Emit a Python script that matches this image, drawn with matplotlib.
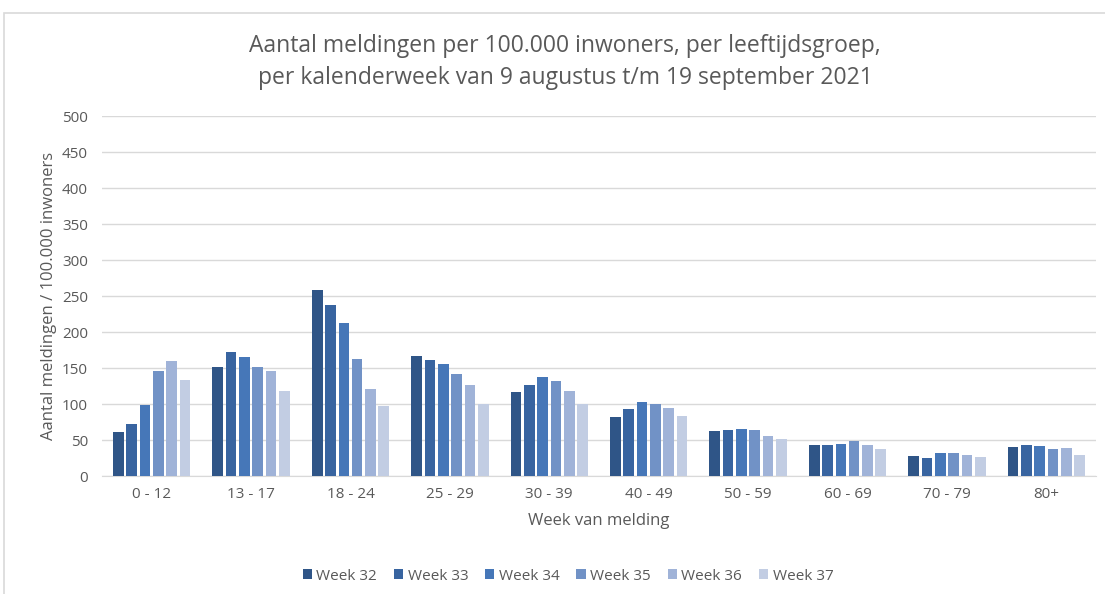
import numpy as np
import matplotlib.pyplot as plt
from matplotlib.patches import Rectangle

groups = ['0 - 12', '13 - 17', '18 - 24', '25 - 29', '30 - 39',
          '40 - 49', '50 - 59', '60 - 69', '70 - 79', '80+']
weeks = ['Week 32', 'Week 33', 'Week 34', 'Week 35', 'Week 36', 'Week 37']

week32 = [61, 151, 258, 166, 117, 82, 63, 43, 28, 40]
week33 = [72, 172, 237, 161, 127, 93, 64, 43, 25, 43]
week34 = [98, 165, 213, 156, 137, 103, 65, 45, 32, 42]
week35 = [146, 151, 162, 141, 132, 100, 64, 48, 32, 38]
week36 = [160, 146, 121, 126, 118, 95, 55, 43, 29, 39]
week37 = [133, 118, 97, 100, 100, 83, 51, 37, 27, 29]
series = [week32, week33, week34, week35, week36, week37]

colors = ['#2f5587', '#3864a0', '#4677b8', '#7192c6', '#a0b3d8', '#c2cde3']
textcol = '#595959'

plt.rcParams['font.family'] = ['Liberation Sans Narrow', 'Open Sans', 'DejaVu Sans']

fig = plt.figure(figsize=(11.05, 5.94), dpi=100)
ax = fig.add_axes([102 / 1105, 1 - 476 / 594, 994 / 1105, 360 / 594])

# chart border
fig.patches.append(Rectangle((4 / 1105, -0.01), 1.2, 1 - 13 / 594 + 0.01,
                             transform=fig.transFigure, fill=False,
                             edgecolor='#d9d9d9', lw=1.2))

x = np.arange(len(groups))
step = 0.134
width = 0.107
for i, vals in enumerate(series):
    ax.bar(x + (i - 2.5) * step, vals, width=width, color=colors[i],
           label=weeks[i], zorder=3)

ax.set_xlim(-0.5, len(groups) - 0.5)
ax.set_ylim(0, 500)
ax.set_yticks(np.arange(0, 501, 50))
ax.grid(axis='y', color='#d9d9d9', lw=1, zorder=0)
for s in ['top', 'right', 'left']:
    ax.spines[s].set_visible(False)
ax.spines['bottom'].set_color('#d9d9d9')
ax.tick_params(length=0, colors=textcol, labelsize=11)
ax.tick_params(axis='x', pad=8)
ax.tick_params(axis='y', pad=10)
ax.set_xticks(x)
ax.set_xticklabels(groups)

ax.set_xlabel('Week van melding', color=textcol, fontsize=12, labelpad=8)
ax.set_ylabel('Aantal meldingen / 100.000 inwoners', color=textcol,
              fontsize=12, labelpad=4)

fig.text(565 / 1105, 1 - 62 / 594,
         'Aantal meldingen per 100.000 inwoners, per leeftijdsgroep,\n'
         'per kalenderweek van 9 augustus t/m 19 september 2021',
         ha='center', va='center', fontsize=16.5, color=textcol,
         linespacing=1.5)

fig.legend(loc='center', bbox_to_anchor=(568 / 1105, 1 - 576 / 594),
           ncol=6, frameon=False, fontsize=11, labelcolor=textcol,
           handlelength=0.6, handleheight=0.6, handletextpad=0.3,
           columnspacing=1.1)

fig.savefig('out.png', dpi=100)
